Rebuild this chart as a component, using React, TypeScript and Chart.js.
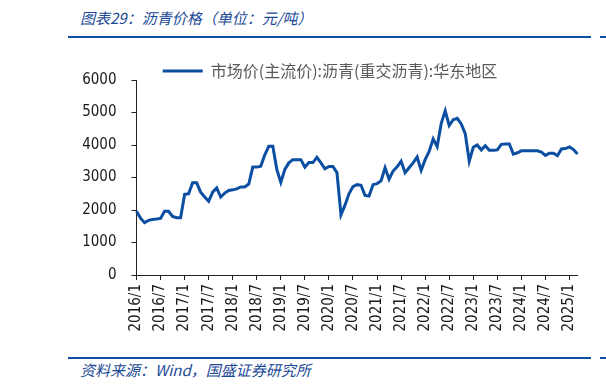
import React, { useEffect, useRef } from 'react';
import { Chart, registerables } from 'chart.js';

Chart.register(...registerables);

// Monthly price, 市场价(主流价):沥青(重交沥青):华东地区 (元/吨)
const price2016 = [1960, 1750, 1610, 1680, 1710, 1720, 1740, 1960, 1960, 1800, 1760, 1760];
const price2017 = [2480, 2500, 2840, 2840, 2550, 2400, 2270, 2550, 2680, 2400, 2520, 2600];
const price2018 = [2620, 2650, 2710, 2710, 2800, 3320, 3320, 3350, 3700, 3960, 3960, 3250];
const price2019 = [2850, 3250, 3450, 3550, 3550, 3550, 3320, 3460, 3460, 3620, 3450, 3270];
const price2020 = [3340, 3340, 3150, 1850, 2150, 2500, 2720, 2780, 2760, 2450, 2430, 2780];
const price2021 = [2810, 2900, 3300, 2950, 3200, 3330, 3500, 3150, 3300, 3450, 3630, 3220];
const price2022 = [3550, 3800, 4190, 3950, 4660, 5050, 4600, 4780, 4820, 4650, 4350, 3500];
const price2023 = [3930, 4000, 3850, 3980, 3840, 3840, 3850, 4020, 4030, 4030, 3720, 3760];
const price2024 = [3820, 3820, 3820, 3820, 3820, 3780, 3680, 3750, 3750, 3670, 3880, 3890];
const price2025 = [3940, 3860, 3720];

const years = [2016, 2017, 2018, 2019, 2020, 2021, 2022, 2023, 2024, 2025];
const yearSeries = [price2016, price2017, price2018, price2019, price2020, price2021, price2022, price2023, price2024, price2025];
const yTicks = [0, 1000, 2000, 3000, 4000, 5000, 6000];

const seriesName = '市场价(主流价):沥青(重交沥青):华东地区';
const titleText = '图表29：沥青价格（单位：元/吨）';
const sourceText = '资料来源：Wind，国盛证券研究所';

const BLUE = '#0b4ea2';
const TEXT_BLUE = '#1b4a96';

export default function App() {
  const canvasRef = useRef<HTMLCanvasElement | null>(null);

  useEffect(() => {
    const labels: string[] = [];
    const values: number[] = [];
    years.forEach((y, i) => {
      yearSeries[i].forEach((v, m) => {
        labels.push(`${y}/${m + 1}`);
        values.push(v);
      });
    });

    const legendShift = {
      id: 'legendShift',
      afterLayout(chart: any) {
        const l = chart.legend;
        if (l) {
          l.top += 9;
          l.bottom += 9;
        }
      },
    };

    const tickFont = { family: '"DejaVu Sans Condensed", "DejaVu Sans", sans-serif', size: 15 };

    const chart = new Chart(canvasRef.current as HTMLCanvasElement, {
      type: 'line',
      data: {
        labels,
        datasets: [
          {
            label: seriesName,
            data: values,
            borderColor: BLUE,
            backgroundColor: BLUE,
            borderWidth: 3,
            pointRadius: 0,
            tension: 0,
            fill: false,
          },
        ],
      },
      plugins: [legendShift],
      options: {
        responsive: false,
        animation: false,
        layout: { padding: { left: 82.5, right: 28.5, top: 12, bottom: 10 } },
        plugins: {
          legend: {
            display: true,
            position: 'top',
            align: 'center',
            labels: {
              usePointStyle: true,
              pointStyle: 'line',
              pointStyleWidth: 40,
              padding: 0,
              color: '#595959',
              font: { family: '"Noto Sans CJK SC", sans-serif', size: 16 },
            },
          },
          tooltip: { enabled: false },
        },
        scales: {
          x: {
            type: 'category',
            offset: false,
            grid: { display: true, drawOnChartArea: false, drawTicks: true, tickLength: 5, color: '#222222' },
            border: { display: true, color: '#222222', width: 1 },
            ticks: {
              autoSkip: false,
              maxRotation: 90,
              minRotation: 90,
              padding: 4,
              color: '#1a1a1a',
              font: tickFont,
              callback: function (this: any, value: any, index: number) {
                return index % 6 === 0 ? this.getLabelForValue(value) : null;
              },
            },
            afterFit: (scale: any) => {
              scale.height = 62;
            },
          },
          y: {
            type: 'linear',
            min: 0,
            max: 6000,
            afterBuildTicks: (scale: any) => {
              scale.ticks = yTicks.map((v) => ({ value: v }));
            },
            grid: { display: true, drawOnChartArea: false, drawTicks: true, tickLength: 5, color: '#222222' },
            border: { display: true, color: '#222222', width: 1 },
            ticks: {
              padding: 15,
              color: '#1a1a1a',
              font: tickFont,
              callback: (value: any) => String(value),
            },
            afterFit: (scale: any) => {
              scale.width = 54;
            },
          },
        },
      },
    });
    return () => chart.destroy();
  }, []);

  return (
    <div style={{ position: 'fixed', left: 0, top: 0, width: 606, height: 390, background: '#ffffff', overflow: 'hidden' }}>
      <div
        style={{
          position: 'absolute',
          left: 80,
          top: 7,
          fontFamily: '"Noto Sans CJK SC", sans-serif',
          fontStyle: 'italic',
          fontSize: 15,
          lineHeight: '22px',
          color: TEXT_BLUE,
          whiteSpace: 'nowrap',
        }}
      >
        {titleText}
      </div>
      <div style={{ position: 'absolute', left: 68, top: 36, width: 523, height: 2, background: BLUE }} />
      <div style={{ position: 'absolute', left: 600, top: 36, width: 6, height: 2, background: BLUE }} />
      <div style={{ position: 'absolute', left: 0, top: 42 }}>
        <canvas ref={canvasRef} width={606} height={305} style={{ width: 606, height: 305, display: 'block' }} />
      </div>
      <div style={{ position: 'absolute', left: 68, top: 357, width: 523, height: 2, background: BLUE }} />
      <div style={{ position: 'absolute', left: 600, top: 357, width: 6, height: 2, background: BLUE }} />
      <div
        style={{
          position: 'absolute',
          left: 80,
          top: 359,
          fontFamily: '"Noto Sans CJK SC", sans-serif',
          fontStyle: 'italic',
          fontSize: 15,
          lineHeight: '22px',
          color: TEXT_BLUE,
          whiteSpace: 'nowrap',
        }}
      >
        {sourceText}
      </div>
    </div>
  );
}
